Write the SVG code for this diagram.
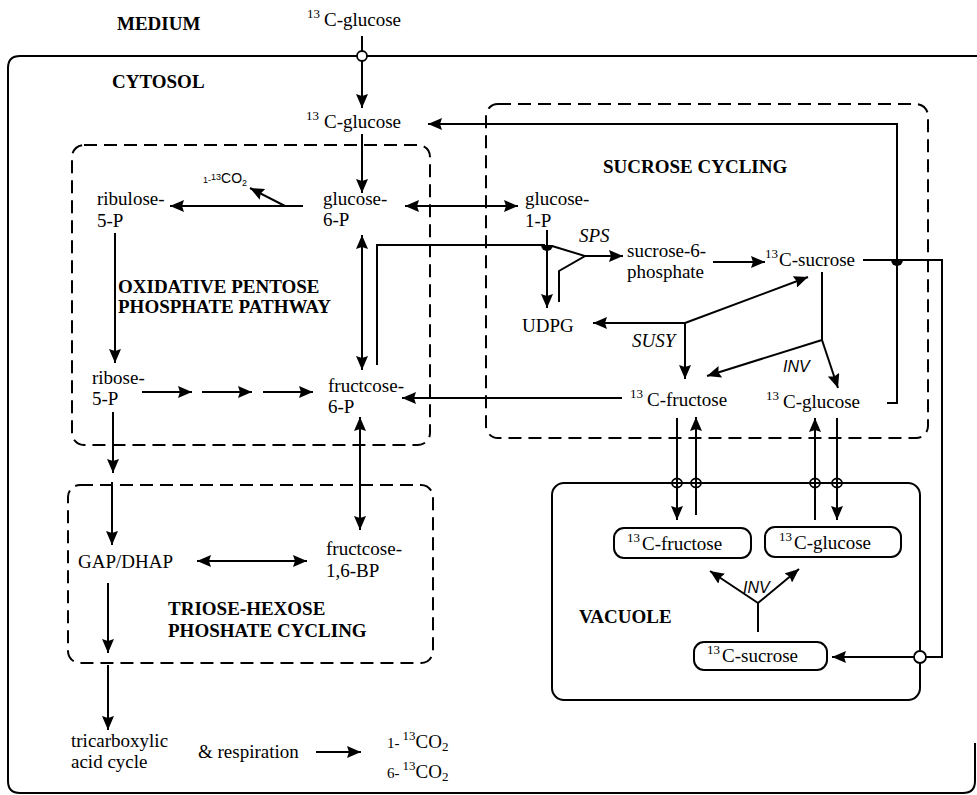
<svg xmlns="http://www.w3.org/2000/svg" width="977" height="795" viewBox="0 0 977 795">
<defs>
<marker id="ah" viewBox="0 0 14 12" refX="14" refY="6" markerWidth="14" markerHeight="12" orient="auto-start-reverse" markerUnits="userSpaceOnUse"><path d="M0,0 L14,6 L0,12 L2,6 z" fill="#000"/></marker>
</defs>
<style>
.t{font-family:"Liberation Serif","Times New Roman",serif;font-size:19px;fill:#000}
.b{font-family:"Liberation Serif","Times New Roman",serif;font-size:19px;font-weight:bold;fill:#000}
.i{font-family:"Liberation Serif","Times New Roman",serif;font-size:19px;font-style:italic;fill:#000}
.si{font-family:"Liberation Sans",Arial,sans-serif;font-size:16px;font-style:italic;fill:#000}
.sup{font-size:13px}
.dash{fill:none;stroke:#000;stroke-width:2;stroke-dasharray:13 7}
.solid{fill:none;stroke:#000;stroke-width:2}
.box{fill:#fff;stroke:#000;stroke-width:2}
.c{fill:none;stroke:#000;stroke-width:2}
.a{fill:none;stroke:#000;stroke-width:2;marker-end:url(#ah)}
.aa{fill:none;stroke:#000;stroke-width:2;marker-start:url(#ah);marker-end:url(#ah)}
.port{fill:#fff;stroke:#000;stroke-width:1.8}
.vport{fill:none;stroke:#000;stroke-width:1.8}
</style>
<rect width="977" height="795" fill="#fff"/>

<g id="compartments">
<path class="solid" d="M977,56 L20,56 Q8,56 8,68 L8,781 Q8,793 20,793 L963,793 Q975,793 975,781 L975,743" stroke-width="1.8"/>
<rect class="dash" x="72" y="145" width="358" height="300" rx="12"/>
<rect class="dash" x="486" y="104" width="442" height="334" rx="12"/>
<rect class="dash" x="68" y="485" width="365" height="178" rx="12"/>
<rect class="solid" x="552" y="483" width="368" height="217" rx="12"/>
</g>

<g id="labels">
<text class="b" x="117" y="30">MEDIUM</text>
<text class="b" x="112" y="88">CYTOSOL</text>
<text class="b" x="603" y="173">SUCROSE CYCLING</text>
<text class="b" x="118" y="293">OXIDATIVE PENTOSE</text>
<text class="b" x="118" y="313">PHOSPHATE PATHWAY</text>
<text class="b" x="168" y="615">TRIOSE-HEXOSE</text>
<text class="b" x="168" y="637">PHOSHATE CYCLING</text>
<text class="b" x="579" y="623">VACUOLE</text>
<text class="i" x="579" y="242">SPS</text>
<text class="i" x="632" y="347">SUSY</text>
<text class="si" x="783" y="372" font-size="17">INV</text>
<text class="si" x="743" y="593">INV</text>
</g>

<g id="connectors">
<line class="a" x1="362" y1="36" x2="362" y2="108"/>
<line class="a" x1="362" y1="134" x2="362" y2="193"/>
<line class="aa" x1="405" y1="206" x2="518" y2="206"/>
<line class="a" x1="303" y1="206" x2="170" y2="206"/>
<line class="a" x1="285" y1="206" x2="250" y2="188"/>
<line class="a" x1="115" y1="233" x2="115" y2="363"/>
<line class="a" x1="142" y1="392" x2="192" y2="392"/>
<line class="a" x1="202" y1="392" x2="252" y2="392"/>
<line class="a" x1="263" y1="392" x2="313" y2="392"/>
<line class="aa" x1="362" y1="235" x2="362" y2="370"/>
<line class="aa" x1="360" y1="417" x2="360" y2="530"/>
<polyline class="c" points="377,365 377,245 545,245"/>
<line class="a" x1="547" y1="230" x2="547" y2="308"/>
<polyline class="c" points="552,246 585,256 559,271 559,302"/>
<line class="a" x1="585" y1="256" x2="623" y2="256"/>
<path d="M541,245 A6,6 0 0 0 553,245 Z" fill="#000"/>
<line class="a" x1="713" y1="262" x2="765" y2="262"/>
<polyline class="a" points="863,260 942,260 942,657 832,657"/>
<path d="M891,260 A6,6 0 0 0 903,260 Z" fill="#000"/>
<line class="a" x1="685" y1="323" x2="593" y2="323"/>
<line class="a" x1="685" y1="323" x2="808" y2="277"/>
<line class="a" x1="685" y1="323" x2="685" y2="379"/>
<line class="c" x1="822" y1="272" x2="822" y2="340"/>
<line class="a" x1="822" y1="340" x2="707" y2="376"/>
<line class="a" x1="822" y1="340" x2="838" y2="388"/>
<line class="a" x1="622" y1="398" x2="402" y2="398"/>
<polyline class="a" points="887,403 897,403 897,124 428,124"/>
<line class="a" x1="677" y1="418" x2="677" y2="520"/>
<line class="a" x1="696" y1="515" x2="696" y2="417"/>
<line class="a" x1="815" y1="520" x2="815" y2="418"/>
<line class="a" x1="837" y1="418" x2="837" y2="520"/>
<line class="c" x1="758" y1="632" x2="758" y2="603"/>
<line class="a" x1="758" y1="603" x2="710" y2="571"/>
<line class="a" x1="758" y1="603" x2="799" y2="569"/>
<line class="a" x1="113" y1="412" x2="113" y2="473"/>
<line class="a" x1="112" y1="482" x2="112" y2="545"/>
<line class="aa" x1="197" y1="561" x2="307" y2="561"/>
<line class="a" x1="108" y1="583" x2="108" y2="653"/>
<line class="a" x1="108" y1="665" x2="108" y2="730"/>
<line class="a" x1="316" y1="752" x2="361" y2="752"/>
</g>

<g id="ports">
<circle class="port" cx="362" cy="56" r="5"/>
<circle class="port" cx="920" cy="657" r="6"/>
<ellipse class="vport" cx="677" cy="483" rx="5" ry="4.5"/>
<ellipse class="vport" cx="696" cy="483" rx="5" ry="4.5"/>
<ellipse class="vport" cx="815" cy="483" rx="5" ry="4.5"/>
<ellipse class="vport" cx="837" cy="483" rx="5" ry="4.5"/>
</g>

<g id="glucose-medium"><text class="t" x="307" y="26"><tspan class="sup" dy="-8">13</tspan><tspan dx="4" dy="8">C-glucose</tspan></text></g>
<g id="glucose-cytosol"><text class="t" x="306" y="128"><tspan class="sup" dy="-8">13</tspan><tspan dx="5" dy="8">C-glucose</tspan></text></g>
<g id="glucose-6-P"><text class="t" x="323" y="205">glucose-</text><text class="t" x="323" y="226">6-P</text></g>
<g id="glucose-1-P"><text class="t" x="525" y="205">glucose-</text><text class="t" x="525" y="227">1-P</text></g>
<g id="co2-1"><text font-family="Liberation Sans, Arial, sans-serif" x="203" y="183"><tspan font-size="9">1-</tspan><tspan font-size="9" dy="-3">13</tspan><tspan font-size="14" dy="3">CO</tspan><tspan font-size="9" dy="3">2</tspan></text></g>
<g id="ribulose-5-P"><text class="t" x="97" y="205">ribulose-</text><text class="t" x="97" y="227">5-P</text></g>
<g id="ribose-5-P"><text class="t" x="92" y="384">ribose-</text><text class="t" x="92" y="405">5-P</text></g>
<g id="fructose-6-P"><text class="t" x="328" y="392">fructcose-</text><text class="t" x="328" y="413">6-P</text></g>
<g id="sucrose-6-phosphate"><text class="t" x="627" y="257">sucrose-6-</text><text class="t" x="627" y="278">phosphate</text></g>
<g id="sucrose-cytosol"><text class="t" x="765" y="266"><tspan class="sup" dy="-8">13</tspan><tspan dx="1" dy="8">C-sucrose</tspan></text></g>
<g id="UDPG"><text class="t" x="522" y="332">UDPG</text></g>
<g id="fructose-cytosol"><text class="t" x="630" y="406"><tspan class="sup" dy="-8">13</tspan><tspan dx="4" dy="8">C-fructose</tspan></text></g>
<g id="glucose-cytosol-2"><text class="t" x="766" y="408"><tspan class="sup" dy="-8">13</tspan><tspan dx="4" dy="8">C-glucose</tspan></text></g>
<g id="fructose-vacuole"><rect class="box" x="614" y="528" width="137" height="30" rx="10"/><text class="t" x="627" y="550"><tspan class="sup" dy="-8">13</tspan><tspan dx="2" dy="8">C-fructose</tspan></text></g>
<g id="glucose-vacuole"><rect class="box" x="765" y="527" width="136" height="30" rx="10"/><text class="t" x="779" y="549"><tspan class="sup" dy="-8">13</tspan><tspan dx="2" dy="8">C-glucose</tspan></text></g>
<g id="sucrose-vacuole"><rect class="box" x="694" y="642" width="133" height="28" rx="10"/><text class="t" x="707" y="662"><tspan class="sup" dy="-8">13</tspan><tspan dx="2" dy="8">C-sucrose</tspan></text></g>
<g id="fructose-1-6-BP"><text class="t" x="326" y="555">fructcose-</text><text class="t" x="326" y="577">1,6-BP</text></g>
<g id="GAP-DHAP"><text class="t" x="78" y="568">GAP/DHAP</text></g>
<g id="TCA"><text class="t" x="71" y="747">tricarboxylic</text><text class="t" x="71" y="768">acid cycle</text></g>
<g id="respiration"><text class="t" x="198" y="758">&amp; respiration</text></g>
<g id="co2-out"><text class="t" x="387" y="748"><tspan font-size="15">1-</tspan><tspan class="sup" dy="-8" dx="3">13</tspan><tspan dy="8">CO</tspan><tspan class="sup" dy="3">2</tspan></text><text class="t" x="387" y="778"><tspan font-size="15">6-</tspan><tspan class="sup" dy="-8" dx="3">13</tspan><tspan dy="8">CO</tspan><tspan class="sup" dy="3">2</tspan></text></g>
</svg>
